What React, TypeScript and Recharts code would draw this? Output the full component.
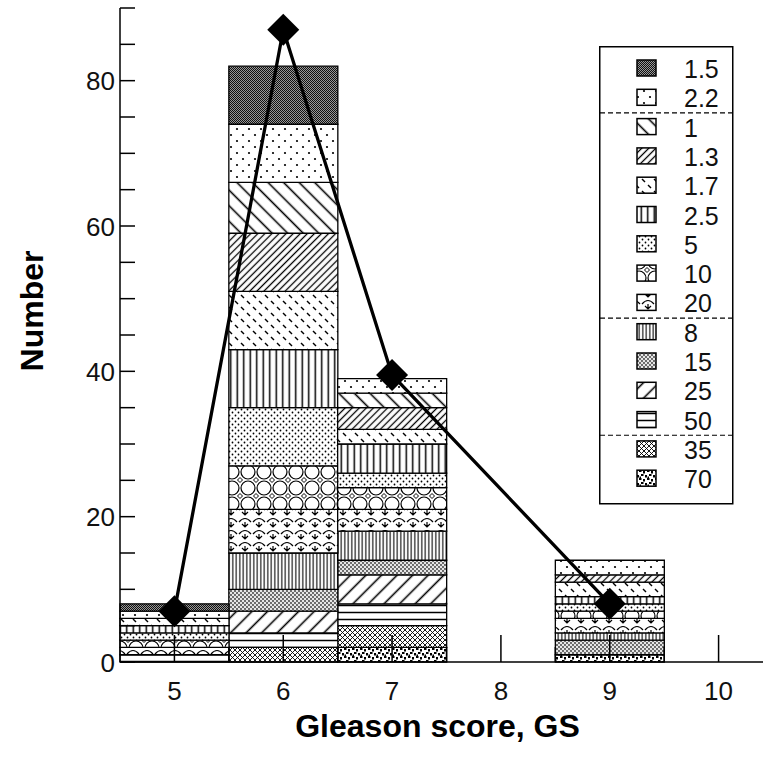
import { Bar, ComposedChart, Line, XAxis, YAxis } from "recharts"

const gleasonScores = [5, 6, 7, 9]

// number of cases per size class, one value per Gleason score
const size70 = [0, 0, 2, 1]
const size35 = [0, 2, 3, 0]
const size50 = [1, 2, 3, 0]
const size25 = [0, 3, 4, 0]
const size15 = [0, 3, 2, 2]
const size8 = [0, 5, 4, 1]
const size20 = [1, 6, 3, 2]
const size10 = [1, 6, 3, 1]
const size5 = [1, 8, 2, 1]
const size2_5 = [1, 8, 4, 1]
const size1_7 = [1, 8, 2, 2]
const size1_3 = [0, 8, 3, 1]
const size1 = [0, 7, 2, 0]
const size2_2 = [1, 8, 2, 2]
const size1_5 = [1, 8, 0, 0]

const modelCurve = [7, 87, 39.5, 8]

// legend, top to bottom, split by the dashed lines
const legendGroups = [
  ["1.5", "2.2"],
  ["1", "1.3", "1.7", "2.5", "5", "10", "20"],
  ["8", "15", "25", "50"],
  ["35", "70"],
]

const xTicks = [5, 5.5, 6, 6.5, 7, 7.5, 8, 8.5, 9, 9.5, 10]
const yTicks = [0, 5, 10, 15, 20, 25, 30, 35, 40, 45, 50, 55, 60, 65, 70, 75, 80, 85, 90]
const yLabels = [0, 20, 40, 60, 80]

const countsBySize: Record<string, number[]> = {
  "70": size70,
  "35": size35,
  "50": size50,
  "25": size25,
  "15": size15,
  "8": size8,
  "20": size20,
  "10": size10,
  "5": size5,
  "2.5": size2_5,
  "1.7": size1_7,
  "1.3": size1_3,
  "1": size1,
  "2.2": size2_2,
  "1.5": size1_5,
}

const legendOrder = legendGroups.flat()
const stackOrder = [...legendOrder].reverse()
const keyOf = (s: string) => "s" + s.replace(".", "_")

const rows = gleasonScores.map((gs, i) => {
  const row: Record<string, number> = { gs, model: modelCurve[i] }
  stackOrder.forEach((s) => {
    row[keyOf(s)] = countsBySize[s][i]
  })
  return row
})

const FONT = "'Liberation Sans', Arial, sans-serif"

function Patterns({ prefix }: { prefix: string }) {
  const id = (s: string) => prefix + keyOf(s)
  const k = "#000"
  return (
    <defs>
      <pattern id={id("1.5")} width={2} height={2} patternUnits="userSpaceOnUse">
        <rect width={2} height={2} fill="#999" />
        <rect width={1} height={1} fill="#111" />
        <rect x={1} y={1} width={1} height={1} fill="#111" />
      </pattern>
      <pattern id={id("2.2")} width={12} height={12} patternUnits="userSpaceOnUse">
        <rect width={12} height={12} fill="#fff" />
        <circle cx={3} cy={3} r={1.1} fill={k} />
        <circle cx={9} cy={9} r={1.1} fill={k} />
      </pattern>
      <pattern id={id("1")} width={11} height={11} patternUnits="userSpaceOnUse" patternTransform="rotate(-45)">
        <rect width={11} height={11} fill="#fff" />
        <line x1={5.5} x2={5.5} y1={0} y2={11} stroke={k} strokeWidth={1.6} />
      </pattern>
      <pattern id={id("1.3")} width={5} height={5} patternUnits="userSpaceOnUse" patternTransform="rotate(45)">
        <rect width={5} height={5} fill="#fff" />
        <line x1={2.5} x2={2.5} y1={0} y2={5} stroke={k} strokeWidth={1.3} />
      </pattern>
      <pattern id={id("1.7")} width={12} height={12} patternUnits="userSpaceOnUse">
        <rect width={12} height={12} fill="#fff" />
        <line x1={1} y1={7} x2={4} y2={10} stroke={k} strokeWidth={1.4} />
        <line x1={7} y1={1} x2={10} y2={4} stroke={k} strokeWidth={1.4} />
      </pattern>
      <pattern id={id("2.5")} width={6.5} height={6.5} patternUnits="userSpaceOnUse">
        <rect width={6.5} height={6.5} fill="#fff" />
        <line x1={3.25} x2={3.25} y1={0} y2={6.5} stroke={k} strokeWidth={1.5} />
      </pattern>
      <pattern id={id("5")} width={6} height={6} patternUnits="userSpaceOnUse">
        <rect width={6} height={6} fill="#fff" />
        <circle cx={1.5} cy={1.5} r={0.9} fill={k} />
        <circle cx={4.5} cy={4.5} r={0.9} fill={k} />
      </pattern>
      <pattern id={id("10")} width={16} height={16} patternUnits="userSpaceOnUse">
        <rect width={16} height={16} fill="#fff" />
        <circle cx={8} cy={8} r={7} fill="none" stroke={k} strokeWidth={1.2} />
        {[0, 16].map((cx) =>
          [0, 16].map((cy) => (
            <path key={`${cx}-${cy}`} d={`M${cx} ${cy - 2.5}L${cx + 2.5} ${cy}L${cx} ${cy + 2.5}L${cx - 2.5} ${cy}Z`} fill="#fff" stroke={k} strokeWidth={1} />
          ))
        )}
      </pattern>
      <pattern id={id("20")} width={14} height={12} patternUnits="userSpaceOnUse">
        <rect width={14} height={12} fill="#fff" />
        <path d="M1 6Q7 -1 13 6" fill="none" stroke={k} strokeWidth={1.2} />
        <path d="M7 6L7 11M4 8L7 11L10 8" fill="none" stroke={k} strokeWidth={1.2} />
      </pattern>
      <pattern id={id("8")} width={3.5} height={3.5} patternUnits="userSpaceOnUse">
        <rect width={3.5} height={3.5} fill="#fff" />
        <line x1={1.75} x2={1.75} y1={0} y2={3.5} stroke={k} strokeWidth={1.1} />
      </pattern>
      <pattern id={id("15")} width={4} height={4} patternUnits="userSpaceOnUse">
        <rect width={4} height={4} fill="#e6e6e6" />
        <circle cx={1} cy={1} r={0.9} fill="#333" />
        <circle cx={3} cy={3} r={0.9} fill="#333" />
      </pattern>
      <pattern id={id("25")} width={11} height={11} patternUnits="userSpaceOnUse" patternTransform="rotate(45)">
        <rect width={11} height={11} fill="#fff" />
        <line x1={5.5} x2={5.5} y1={0} y2={11} stroke={k} strokeWidth={1.6} />
      </pattern>
      <pattern id={id("50")} width={7} height={7} patternUnits="userSpaceOnUse">
        <rect width={7} height={7} fill="#fff" />
        <line x1={0} x2={7} y1={3.5} y2={3.5} stroke={k} strokeWidth={1.5} />
      </pattern>
      <pattern id={id("35")} width={5} height={5} patternUnits="userSpaceOnUse">
        <rect width={5} height={5} fill="#fff" />
        <path d="M0 0L5 5M5 0L0 5" stroke={k} strokeWidth={0.9} />
      </pattern>
      <pattern id={id("70")} width={8} height={8} patternUnits="userSpaceOnUse">
        <rect width={8} height={8} fill="#fff" />
        <rect x={0} y={0} width={2.5} height={2} fill={k} />
        <rect x={4} y={1} width={2} height={2.5} fill={k} />
        <rect x={2} y={4} width={2.5} height={2} fill={k} />
        <rect x={6} y={5} width={2} height={2.5} fill={k} />
        <rect x={0.5} y={6.5} width={1.5} height={1.5} fill={k} />
      </pattern>
    </defs>
  )
}

function BottomTick({ x, y, payload }: any) {
  const major = Number.isInteger(payload.value)
  return (
    <g>
      <line x1={x} x2={x} y1={y} y2={y - (major ? 27 : 15)} stroke="#000" strokeWidth={1.5} />
      {major && (
        <text x={x} y={y + 38} textAnchor="middle" fontSize={26} fontFamily={FONT} fill="#111">
          {payload.value}
        </text>
      )}
    </g>
  )
}

function TopTick({ x, y, payload }: any) {
  const major = Number.isInteger(payload.value)
  return <line x1={x} x2={x} y1={y} y2={y + (major ? 27 : 15)} stroke="#000" strokeWidth={1.5} />
}

function LeftTick({ x, y, payload }: any) {
  return (
    <g>
      <line x1={x} x2={x + 15} y1={y} y2={y} stroke="#000" strokeWidth={1.5} />
      {yLabels.includes(payload.value) && (
        <text x={x - 5} y={y + 9.5} textAnchor="end" fontSize={26} fontFamily={FONT} fill="#111">
          {payload.value}
        </text>
      )}
    </g>
  )
}

function RightTick({ x, y }: any) {
  return <line x1={x} x2={x - 15} y1={y} y2={y} stroke="#000" strokeWidth={1.5} />
}

function Diamond({ cx, cy }: any) {
  if (cx == null || cy == null) return null
  const r = 16
  return <path d={`M${cx} ${cy - r}L${cx + r} ${cy}L${cx} ${cy + r}L${cx - r} ${cy}Z`} fill="#000" />
}

function SizeLegend() {
  const rowH = 29.3
  const first = 23
  const items: { s: string; cy: number }[] = []
  const seps: number[] = []
  let row = 0
  legendGroups.forEach((group, gi) => {
    if (gi > 0) seps.push(first + (row - 0.5) * rowH)
    group.forEach((s) => {
      items.push({ s, cy: first + row * rowH })
      row++
    })
  })
  return (
    <svg width={135} height={459} style={{ position: "absolute", left: 599, top: 46 }}>
      <Patterns prefix="lg" />
      <rect x={0.75} y={0.75} width={133} height={457} fill="#fff" stroke="#000" strokeWidth={1.5} />
      {seps.map((y) => (
        <line key={y} x1={1} x2={134} y1={y} y2={y} stroke="#000" strokeWidth={1.2} strokeDasharray="5 3" />
      ))}
      {items.map(({ s, cy }) => (
        <g key={s}>
          <rect x={38} y={cy - 9} width={19} height={16} fill={`url(#lg${keyOf(s)})`} stroke="#000" strokeWidth={1.5} />
          <text x={85} y={cy + 9} fontSize={25} fontFamily={FONT} fill="#111">
            {s}
          </text>
        </g>
      ))}
    </svg>
  )
}

export default function App() {
  return (
    <div
      style={{
        position: "absolute",
        left: 0,
        top: 0,
        width: 763,
        height: 758,
        overflow: "hidden",
        background: "#fff",
      }}
    >
      <ComposedChart
        width={780}
        height={758}
        data={rows}
        margin={{ top: 8, right: 0, bottom: 0, left: 0 }}
        barCategoryGap={0}
        barGap={0}
      >
        <Patterns prefix="bar" />
        {stackOrder.map((s) => (
          <Bar
            key={s}
            xAxisId="b"
            yAxisId="l"
            dataKey={keyOf(s)}
            stackId="gs"
            fill={`url(#bar${keyOf(s)})`}
            stroke="#000"
            strokeWidth={1.3}
            isAnimationActive={false}
          />
        ))}
        <Line
          xAxisId="b"
          yAxisId="l"
          type="linear"
          dataKey="model"
          stroke="#000"
          strokeWidth={3.3}
          dot={(p: any) => <Diamond key={p.index} {...p} />}
          activeDot={false}
          isAnimationActive={false}
        />
        <XAxis
          xAxisId="b"
          dataKey="gs"
          type="number"
          domain={[4.5, 10.5]}
          ticks={xTicks}
          interval={0}
          height={96}
          tickSize={0}
          tickMargin={0}
          tickLine={false}
          tick={<BottomTick />}
          axisLine={{ stroke: "#000", strokeWidth: 1.5 }}
          label={({ viewBox }: any) => (
            <text
              x={(viewBox?.x ?? 120) + (viewBox?.width ?? 653) / 2 - 9}
              y={737}
              textAnchor="middle"
              fontSize={32}
              fontWeight="bold"
              fontFamily={FONT}
              fill="#000"
            >
              Gleason score, GS
            </text>
          )}
        />
        <XAxis
          xAxisId="t"
          orientation="top"
          type="number"
          domain={[4.5, 10.5]}
          ticks={xTicks}
          interval={0}
          height={0}
          tickSize={0}
          tickMargin={0}
          tickLine={false}
          tick={<TopTick />}
          axisLine={{ stroke: "#000", strokeWidth: 1.5 }}
        />
        <YAxis
          yAxisId="l"
          domain={[0, 90]}
          ticks={yTicks}
          interval={0}
          width={120}
          tickSize={0}
          tickMargin={0}
          tickLine={false}
          tick={<LeftTick />}
          axisLine={{ stroke: "#000", strokeWidth: 1.5 }}
          label={() => (
            <text
              x={43}
              y={311}
              transform="rotate(-90 43 311)"
              textAnchor="middle"
              fontSize={32}
              fontWeight="bold"
              fontFamily={FONT}
              fill="#000"
            >
              Number
            </text>
          )}
        />
        <YAxis
          yAxisId="r"
          orientation="right"
          domain={[0, 90]}
          ticks={yTicks}
          interval={0}
          width={7}
          tickSize={0}
          tickMargin={0}
          tickLine={false}
          tick={<RightTick />}
          axisLine={{ stroke: "#000", strokeWidth: 1.5 }}
        />
      </ComposedChart>
      <SizeLegend />
    </div>
  )
}
